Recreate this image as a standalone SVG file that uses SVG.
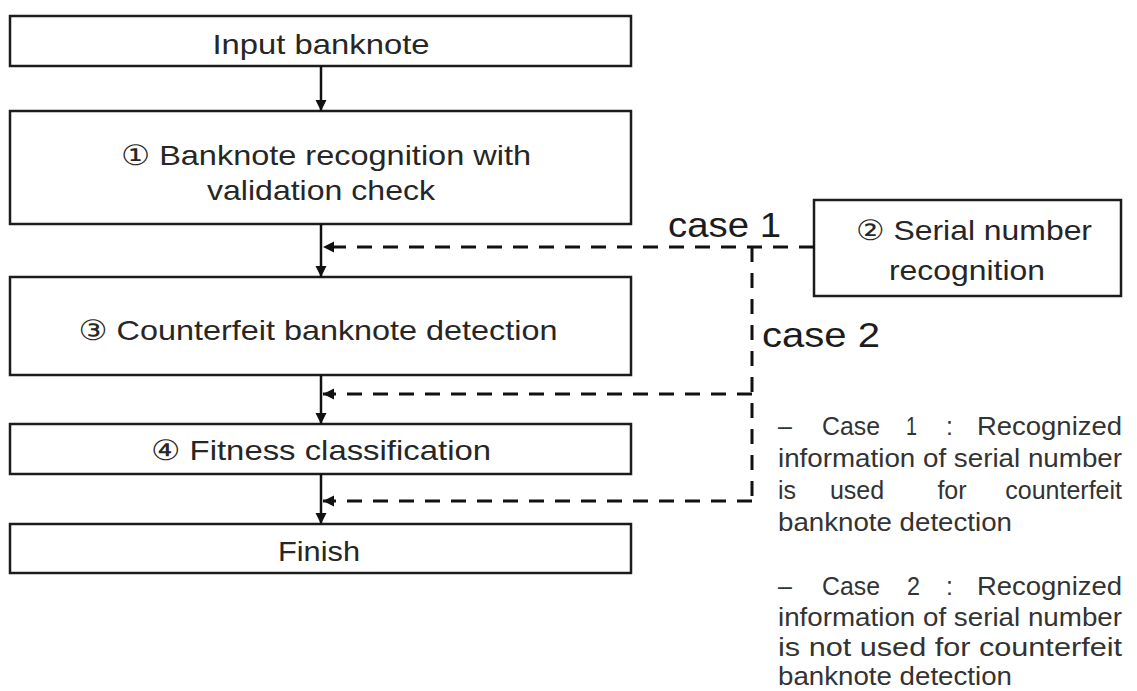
<svg xmlns="http://www.w3.org/2000/svg" width="1137" height="691" viewBox="0 0 1137 691">
  <defs>
    <style>
      .box { fill: #ffffff; stroke: #1c1c1c; stroke-width: 2.5; }
      .lbl { font-family: "Liberation Sans", "DejaVu Sans", "Noto Sans CJK KR", sans-serif; font-size: 28px; fill: #262626; text-anchor: middle; }
      .case { font-family: "Liberation Sans", "DejaVu Sans", sans-serif; font-size: 35px; fill: #1c1c1c; }
      .note { font-family: "Liberation Sans", "DejaVu Sans", sans-serif; font-size: 25px; fill: #333333; }
      .mid { text-anchor: middle; }
      .end { text-anchor: end; }
      .flow { fill: none; stroke: #111111; stroke-width: 2.5; }
      .dash { fill: none; stroke: #111111; stroke-width: 3; stroke-dasharray: 15 11; }
    </style>
    <marker id="arrow" viewBox="0 0 10 10" refX="10" refY="5" markerUnits="userSpaceOnUse" markerWidth="11" markerHeight="12" orient="auto">
      <path d="M0,0 L10,5 L0,10 Z" fill="#111111"/>
    </marker>
  </defs>

  <rect width="1137" height="691" fill="#ffffff"/>

  <!-- main flow boxes -->
  <g id="input">
    <rect class="box" x="10" y="16" width="621" height="50"/>
    <text class="lbl" x="321" y="54" textLength="217" lengthAdjust="spacingAndGlyphs">Input banknote</text>
  </g>
  <g id="recognition">
    <rect class="box" x="10" y="111" width="621" height="113"/>
    <text class="lbl" x="326" y="165" textLength="410" lengthAdjust="spacingAndGlyphs">① Banknote recognition with</text>
    <text class="lbl" x="321" y="200" textLength="228" lengthAdjust="spacingAndGlyphs">validation check</text>
  </g>
  <g id="counterfeit">
    <rect class="box" x="10" y="277" width="621" height="98"/>
    <text class="lbl" x="318" y="340" textLength="479" lengthAdjust="spacingAndGlyphs">③ Counterfeit banknote detection</text>
  </g>
  <g id="fitness">
    <rect class="box" x="10" y="424" width="621" height="50"/>
    <text class="lbl" x="321" y="460" textLength="340" lengthAdjust="spacingAndGlyphs">④ Fitness classification</text>
  </g>
  <g id="finish">
    <rect class="box" x="10" y="524" width="621" height="49"/>
    <text class="lbl" x="319" y="561" textLength="82" lengthAdjust="spacingAndGlyphs">Finish</text>
  </g>

  <!-- side process -->
  <g id="serial">
    <rect class="box" x="814" y="200" width="307" height="96"/>
    <text class="lbl" x="974" y="240" textLength="236" lengthAdjust="spacingAndGlyphs">② Serial number</text>
    <text class="lbl" x="967" y="280" textLength="156" lengthAdjust="spacingAndGlyphs">recognition</text>
  </g>

  <!-- connectors -->
  <g id="connectors">
    <path class="flow" d="M321 66 V111" marker-end="url(#arrow)"/>
    <path class="flow" d="M321 224 V277" marker-end="url(#arrow)"/>
    <path class="flow" d="M321 375 V424" marker-end="url(#arrow)"/>
    <path class="flow" d="M321 474 V524" marker-end="url(#arrow)"/>

    <path class="dash" d="M814 247 H323" marker-end="url(#arrow)"/>
    <path class="dash" d="M752 247 V501"/>
    <path class="dash" d="M752 394 H323" marker-end="url(#arrow)"/>
    <path class="dash" d="M752 501 H323" marker-end="url(#arrow)"/>
  </g>

  <g id="case-labels">
    <text class="case" x="668" y="237" textLength="113" lengthAdjust="spacingAndGlyphs">case 1</text>
    <text class="case" x="762" y="347" textLength="118" lengthAdjust="spacingAndGlyphs">case 2</text>
  </g>

  <!-- legend: justified paragraphs -->
  <g id="legend" class="note">
    <text x="778" y="435">–</text>
    <text x="822" y="435" textLength="58" lengthAdjust="spacingAndGlyphs">Case</text>
    <text x="906" y="435" textLength="11" lengthAdjust="spacingAndGlyphs">1</text>
    <text x="946" y="435">:</text>
    <text x="977" y="435" textLength="145" lengthAdjust="spacingAndGlyphs">Recognized</text>
    <text x="778" y="467" textLength="344" lengthAdjust="spacingAndGlyphs">information of serial number</text>
    <text x="778" y="499">is</text>
    <text class="mid" x="857" y="499">used</text>
    <text class="mid" x="952" y="499">for</text>
    <text class="end" x="1122" y="499">counterfeit</text>
    <text x="778" y="531" textLength="234" lengthAdjust="spacingAndGlyphs">banknote detection</text>

    <text x="778" y="595">–</text>
    <text x="822" y="595" textLength="58" lengthAdjust="spacingAndGlyphs">Case</text>
    <text x="907" y="595" textLength="13" lengthAdjust="spacingAndGlyphs">2</text>
    <text x="946" y="595">:</text>
    <text x="977" y="595" textLength="145" lengthAdjust="spacingAndGlyphs">Recognized</text>
    <text x="778" y="626" textLength="344" lengthAdjust="spacingAndGlyphs">information of serial number</text>
    <text x="778" y="656" textLength="344" lengthAdjust="spacingAndGlyphs">is not used for counterfeit</text>
    <text x="778" y="685" textLength="234" lengthAdjust="spacingAndGlyphs">banknote detection</text>
  </g>
</svg>
